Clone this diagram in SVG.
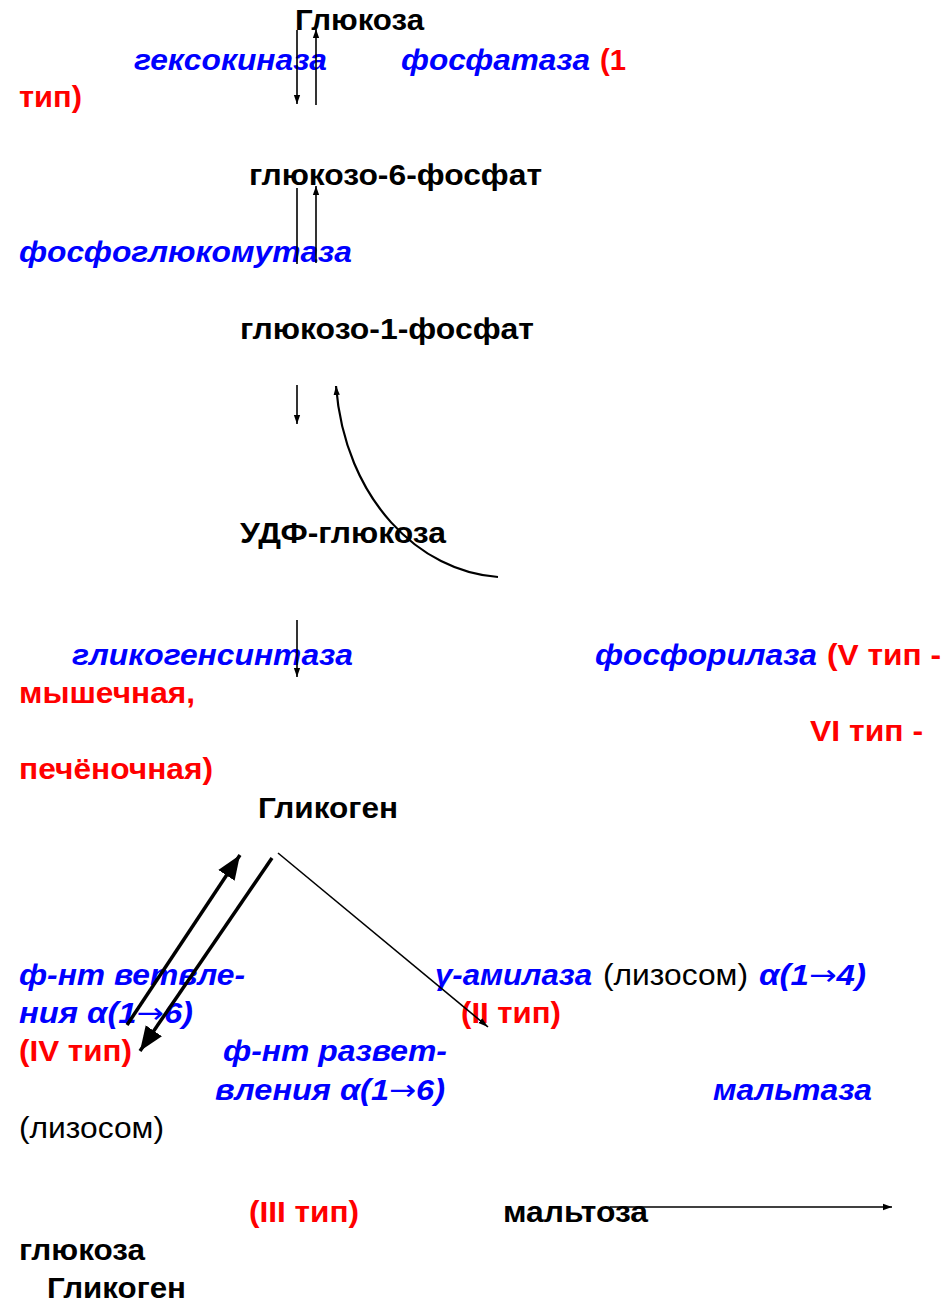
<svg xmlns="http://www.w3.org/2000/svg" width="951" height="1312" viewBox="0 0 951 1312">
<style>
text{font-family:"Liberation Sans",Arial,sans-serif;font-size:29px;}
.b{font-weight:bold;fill:#000;}
.e{font-weight:bold;font-style:italic;fill:#0000FF;}
.r{font-weight:bold;fill:#FF0000;}
.n{font-weight:normal;fill:#000;}
.ar{font-family:"DejaVu Sans",sans-serif;font-weight:normal;font-style:normal;}
.c{stroke:#000;fill:none;stroke-width:1.6;}
.cv{stroke:#000;fill:none;stroke-width:2.2;}
.t{stroke:#000;fill:none;stroke-width:3.5;}
</style>
<defs>
<marker id="a" viewBox="0 0 10 10" refX="10" refY="5" markerWidth="9" markerHeight="9" markerUnits="userSpaceOnUse" orient="auto"><path d="M0,1.5 L10,5 L0,8.5 z" fill="#000"/></marker>
<marker id="ab" viewBox="0 0 10 10" refX="10" refY="5" markerWidth="7" markerHeight="7" orient="auto"><path d="M0,1 L10,5 L0,9 z" fill="#000"/></marker>
<marker id="as" viewBox="0 0 10 10" refX="10" refY="5" markerWidth="10" markerHeight="10" markerUnits="userSpaceOnUse" orient="auto"><path d="M0,2 L10,5 L0,8 z" fill="#000"/></marker>
</defs>
<rect width="951" height="1312" fill="#fff"/>
<g id="n-glucose"><text class="b" x="295" y="30" textLength="129" lengthAdjust="spacingAndGlyphs">Глюкоза</text></g>
<g id="e-hexokinase"><text class="e" x="134" y="70" textLength="193" lengthAdjust="spacingAndGlyphs">гексокиназа</text></g>
<g id="e-phosphatase"><text class="e" x="401" y="70" textLength="189" lengthAdjust="spacingAndGlyphs">фосфатаза</text><text class="r" x="600" y="70" textLength="26" lengthAdjust="spacingAndGlyphs">(1</text><text class="r" x="19" y="107" textLength="63" lengthAdjust="spacingAndGlyphs">тип)</text></g>
<g id="n-g6p"><text class="b" x="249" y="185" textLength="293" lengthAdjust="spacingAndGlyphs">глюкозо-6-фосфат</text></g>
<g id="e-pgm"><text class="e" x="19" y="262" textLength="333" lengthAdjust="spacingAndGlyphs">фосфоглюкомутаза</text></g>
<g id="n-g1p"><text class="b" x="240" y="339" textLength="294" lengthAdjust="spacingAndGlyphs">глюкозо-1-фосфат</text></g>
<g id="n-udpg"><text class="b" x="240" y="543" textLength="206" lengthAdjust="spacingAndGlyphs">УДФ-глюкоза</text></g>
<g id="e-gs"><text class="e" x="72" y="665" textLength="281" lengthAdjust="spacingAndGlyphs">гликогенсинтаза</text></g>
<g id="e-phosphorylase"><text class="e" x="595" y="665" textLength="222" lengthAdjust="spacingAndGlyphs">фосфорилаза</text><text class="r" x="827" y="665" textLength="114" lengthAdjust="spacingAndGlyphs">(V тип -</text><text class="r" x="19" y="703" textLength="176" lengthAdjust="spacingAndGlyphs">мышечная,</text><text class="r" x="810" y="741" textLength="113" lengthAdjust="spacingAndGlyphs">VI тип -</text><text class="r" x="19" y="779" textLength="194" lengthAdjust="spacingAndGlyphs">печёночная)</text></g>
<g id="n-glycogen"><text class="b" x="258" y="818" textLength="140" lengthAdjust="spacingAndGlyphs">Гликоген</text></g>
<g id="e-branching"><text class="e" x="19" y="985" textLength="226" lengthAdjust="spacingAndGlyphs">ф-нт ветвле-</text><text class="e" x="19" y="1023" textLength="174" lengthAdjust="spacingAndGlyphs">ния α(1<tspan class="ar">→</tspan>6)</text><text class="r" x="19" y="1061" textLength="113" lengthAdjust="spacingAndGlyphs">(IV тип)</text></g>
<g id="e-amylase"><text class="e" x="435" y="985" textLength="157" lengthAdjust="spacingAndGlyphs">γ-амилаза</text><text class="n" x="603" y="985" textLength="145" lengthAdjust="spacingAndGlyphs">(лизосом)</text><text class="e" x="759" y="985" textLength="107" lengthAdjust="spacingAndGlyphs">α(1<tspan class="ar">→</tspan>4)</text><text class="r" x="461" y="1023" textLength="100" lengthAdjust="spacingAndGlyphs">(II тип)</text></g>
<g id="e-debranching"><text class="e" x="223" y="1061" textLength="224" lengthAdjust="spacingAndGlyphs">ф-нт развет-</text><text class="e" x="215" y="1100" textLength="230" lengthAdjust="spacingAndGlyphs">вления α(1<tspan class="ar">→</tspan>6)</text><text class="n" x="19" y="1138" textLength="145" lengthAdjust="spacingAndGlyphs">(лизосом)</text><text class="r" x="249" y="1222" textLength="110" lengthAdjust="spacingAndGlyphs">(III тип)</text></g>
<g id="e-maltase"><text class="e" x="713" y="1100" textLength="159" lengthAdjust="spacingAndGlyphs">мальтаза</text></g>
<g id="n-maltose"><text class="b" x="503" y="1222" textLength="145" lengthAdjust="spacingAndGlyphs">мальтоза</text></g>
<g id="n-glucose2"><text class="b" x="19" y="1260" textLength="126" lengthAdjust="spacingAndGlyphs">глюкоза</text></g>
<g id="n-glycogen2"><text class="b" x="47" y="1298" textLength="139" lengthAdjust="spacingAndGlyphs">Гликоген</text></g>
<g id="connectors">
<path class="c" d="M297,30 L297,104" marker-end="url(#a)"/>
<path class="c" d="M316,105 L316,29" marker-end="url(#a)"/>
<path class="c" d="M297,188 L297,264"/>
<path class="c" d="M316,263 L316,186" marker-end="url(#a)"/>
<path class="c" d="M297,385 L297,424" marker-end="url(#a)"/>
<path class="cv" d="M498,577 C420,572 345,500 336,386" marker-end="url(#a)"/>
<path class="c" d="M297,620 L297,677" marker-end="url(#a)"/>
<path class="t" d="M127,1025 L240,855" marker-end="url(#ab)"/>
<path class="t" d="M272,858 L140,1051" marker-end="url(#ab)"/>
<path class="c" d="M278,853 L488,1027" marker-end="url(#as)"/>
<path class="c" d="M610,1207 L892,1207" marker-end="url(#a)"/>
</g>
</svg>
